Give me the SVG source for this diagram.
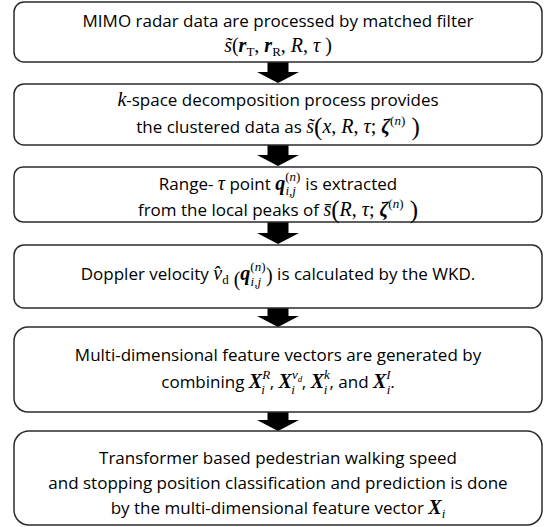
<svg xmlns="http://www.w3.org/2000/svg" width="546" height="527" viewBox="0 0 546 527">
<style>
.box{fill:#fff;stroke:#2b2b2b;stroke-width:1.5}
.t{font-family:"Open Sans","Liberation Sans",sans-serif;font-size:17px;fill:#000;text-anchor:middle}
.m{font-family:"Liberation Serif",serif;font-size:20px}
.i{font-style:italic}
.bi{font-style:italic;font-weight:bold}
.s{font-size:13px}
.ss{font-size:9px}
.bp{font-size:25px}
.arrow{fill:#000}
</style>
<rect width="546" height="527" fill="#fff"/>
<g id="connectors">
<polygon class="arrow" points="267.5,62 288.5,62 288.5,72 299,72 278,83 257,72 267.5,72"/>
<polygon class="arrow" points="267.5,145 288.5,145 288.5,155 299,155 278,166 257,155 267.5,155"/>
<polygon class="arrow" points="267.5,222 288.5,222 288.5,233 299,233 278,244 257,233 267.5,233"/>
<polygon class="arrow" points="267.5,308 288.5,308 288.5,316 299,316 278,327 257,316 267.5,316"/>
<polygon class="arrow" points="267.5,412 288.5,412 288.5,420 299,420 278,431 257,420 267.5,420"/>
</g>
<g id="n1">
<rect class="box" x="14" y="2" width="528" height="60" rx="10"/>
<text class="t" x="278" y="27">MIMO radar data are processed by matched filter</text>
<text class="t m" x="278" y="52"><tspan class="i">s̃</tspan>(<tspan class="bi">r</tspan><tspan class="s" dy="4">T</tspan><tspan dy="-4">, </tspan><tspan class="bi">r</tspan><tspan class="s" dy="4">R</tspan><tspan dy="-4">, </tspan><tspan class="i">R</tspan>, <tspan class="i">τ</tspan> )</text>
</g>
<g id="n2">
<rect class="box" x="14" y="84" width="528" height="61" rx="10"/>
<text class="t" x="278" y="106"><tspan class="m i">k</tspan>-space decomposition process provides</text>
<text class="t" x="278" y="133">the clustered data as <tspan class="m i">s̃</tspan><tspan class="m bp" dy="2">(</tspan><tspan class="m i" dy="-2">x</tspan><tspan class="m">, </tspan><tspan class="m i">R</tspan><tspan class="m">, </tspan><tspan class="m i">τ</tspan><tspan class="m">; </tspan><tspan class="m bi">ζ</tspan><tspan class="m s" dy="-8">(<tspan class="i">n</tspan>)</tspan><tspan class="m bp" dy="10"> )</tspan></text>
</g>
<g id="n3">
<rect class="box" x="14" y="167" width="528" height="55" rx="9"/>
<text class="t" x="278" y="190">Range- <tspan class="m i">τ</tspan> point <tspan class="m bi">q</tspan><tspan class="m s" dy="-9">(<tspan class="i">n</tspan>)</tspan><tspan class="m s i" dx="-15" dy="14">i,j</tspan><tspan dx="5" dy="-5"> is extracted</tspan></text>
<text class="t" x="278" y="216">from the local peaks of <tspan class="m i">s̄</tspan><tspan class="m bp" dy="2">(</tspan><tspan class="m i" dy="-2">R</tspan><tspan class="m">, </tspan><tspan class="m i">τ</tspan><tspan class="m">; </tspan><tspan class="m bi">ζ</tspan><tspan class="m s" dy="-8">(<tspan class="i">n</tspan>)</tspan><tspan class="m bp" dy="10"> )</tspan></text>
</g>
<g id="n4">
<rect class="box" x="14" y="245" width="528" height="63" rx="10"/>
<text class="t" x="278" y="280">Doppler velocity <tspan class="m i">v̂</tspan><tspan class="m s" dy="4">d</tspan><tspan class="m" font-size="31" dy="2"> (</tspan><tspan class="m bi" dy="-6">q</tspan><tspan class="m s" dy="-9">(<tspan class="i">n</tspan>)</tspan><tspan class="m s i" dx="-15" dy="15">i,j</tspan><tspan class="m" font-size="31" dx="5" dy="-4">)</tspan><tspan dy="-2"> is calculated by the WKD.</tspan></text>
</g>
<g id="n5">
<rect class="box" x="14" y="327" width="528" height="85" rx="14"/>
<text class="t" x="278" y="361">Multi-dimensional feature vectors are generated by</text>
<text class="t" x="278" y="388">combining <tspan class="m bi">X</tspan><tspan class="m s i" dy="-9">R</tspan><tspan class="m s i" dx="-9" dy="15">i</tspan><tspan dx="5" dy="-6">, </tspan><tspan class="m bi">X</tspan><tspan class="m s i" dy="-9">v</tspan><tspan class="m ss i" dy="3">d</tspan><tspan class="m s i" dx="-11" dy="12">i</tspan><tspan dx="7" dy="-6">, </tspan><tspan class="m bi">X</tspan><tspan class="m s i" dy="-9">k</tspan><tspan class="m s i" dx="-6" dy="15">i</tspan><tspan dx="2" dy="-6">, and </tspan><tspan class="m bi">X</tspan><tspan class="m s i" dy="-9">I</tspan><tspan class="m s i" dx="-4" dy="15">i</tspan><tspan dy="-6">.</tspan></text>
</g>
<g id="n6">
<rect class="box" x="14" y="431" width="528" height="94" rx="15"/>
<text class="t" x="278" y="464">Transformer based pedestrian walking speed</text>
<text class="t" x="278" y="489">and stopping position classification and prediction is done</text>
<text class="t" x="278" y="514">by the multi-dimensional feature vector <tspan class="m bi">X</tspan><tspan class="m s i" dy="4">i</tspan></text>
</g>
</svg>
